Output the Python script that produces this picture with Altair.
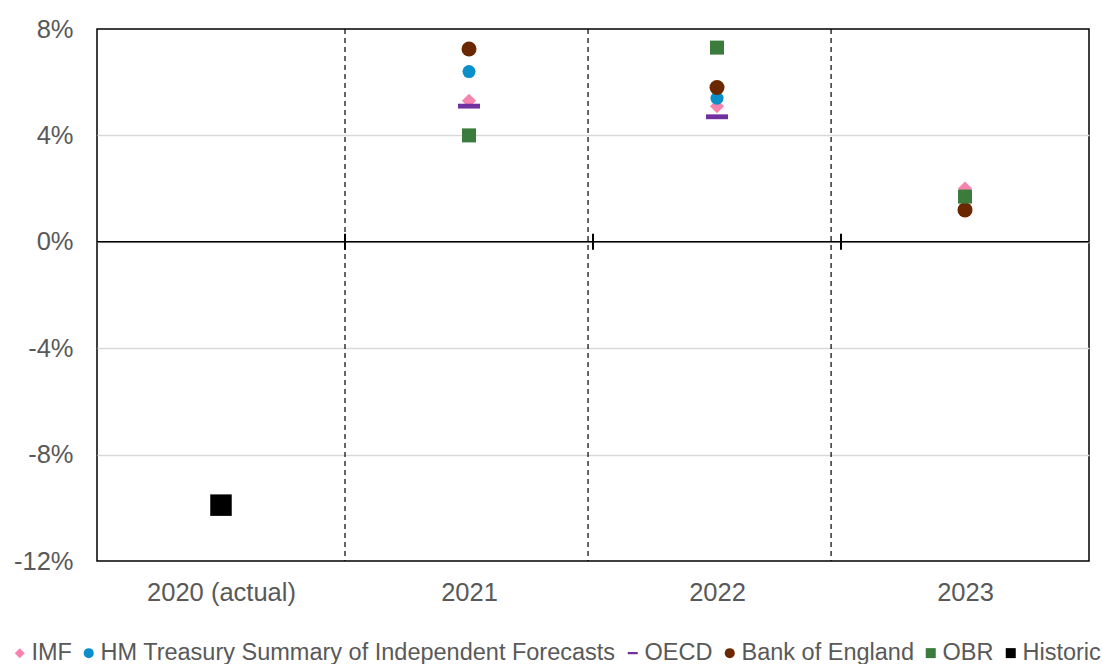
import json
import altair as alt
import pandas as pd

# ---- data ----
categories = ["2020 (actual)", "2021", "2022", "2023"]
series = ["IMF", "HM Treasury Summary of Independent Forecasts", "OECD",
          "Bank of England", "OBR", "Historic"]
imf = [None, 5.3, 5.1, 2.0]
hmt = [None, 6.4, 5.4, None]
oecd = [None, 5.1, 4.7, None]
boe = [None, 7.25, 5.8, 1.2]
obr = [None, 4.0, 7.3, 1.7]
historic = [-9.9, None, None, None]
series_values = [imf, hmt, oecd, boe, obr, historic]

colors = ["#F783AE", "#0A8FCA", "#7030A0", "#6B2700", "#3B7B3B", "#000000"]
shapes = ["diamond", "circle", "M-1,-0.22H1V0.22H-1Z", "circle", "square", "square"]
marker_sizes = [200, 169, 484, 225, 196, 462]

dividers = [1.0, 1.98, 2.96]        # dashed separators (category units)
zero_ticks = [1, 2, 3]              # tick marks on the 0% axis line
y_ticks = [-12, -8, -4, 0, 4, 8]
label_pos = [0.5, 1.5, 2.5, 3.5]

rows = []
for i, (s, vals) in enumerate(zip(series, series_values)):
    for j, v in enumerate(vals):
        if v is not None:
            rows.append({"series": s, "x": j + 0.5, "y": v, "size": marker_sizes[i]})
df = pd.DataFrame(rows)

W, H = 992, 532
FONT = "Liberation Sans"
GREY = "#595959"

xscale = alt.Scale(domain=[0, 4], nice=False, zero=False)
yscale = alt.Scale(domain=[-12, 8], nice=False, zero=False)

x_axis = alt.Axis(values=label_pos,
                  labelExpr=json.dumps(categories) + "[floor(datum.value)]",
                  ticks=False, domain=False, grid=False, title=None,
                  labelFontSize=25.5, labelColor=GREY, labelFont=FONT,
                  labelPadding=19)
y_axis = alt.Axis(values=y_ticks, labelExpr="datum.value + '%'",
                  ticks=False, domain=False, grid=True, title=None,
                  gridColor={"condition": {"test": "datum.value == 8 || datum.value == -12",
                                           "value": "transparent"},
                             "value": "#D9D9D9"},
                  gridWidth=1.5,
                  labelFontSize=25.5, labelColor=GREY, labelFont=FONT,
                  labelPadding=24)


def X(field):
    return alt.X(field, scale=xscale, axis=x_axis)


def Y(field):
    return alt.Y(field, scale=yscale, axis=y_axis)


legend = alt.Legend(orient="none", legendX=-89, legendY=612, direction="horizontal",
                    title=None, labelFontSize=23.5, labelColor=GREY, labelFont=FONT,
                    symbolSize=100, labelOffset=0, columnPadding=5, labelLimit=1000,
                    padding=0, symbolStrokeWidth=0)

div_df = pd.DataFrame({"x": dividers})
dash = alt.Chart(div_df).mark_rule(color="black", strokeWidth=1.2, strokeDash=[5, 4]).encode(
    x=X("x:Q"))

zero_df = pd.DataFrame({"y": [0]})
zero_line = alt.Chart(zero_df).mark_rule(color="black", strokeWidth=1.5).encode(y=Y("y:Q"))

tick_df = pd.DataFrame({"x": zero_ticks, "y": [-0.3] * 3, "y2": [0.3] * 3})
ticks = alt.Chart(tick_df).mark_rule(color="black", strokeWidth=2).encode(
    x=X("x:Q"), y=Y("y:Q"), y2="y2:Q")

points = alt.Chart(df).mark_point(filled=True, opacity=1, strokeWidth=0).encode(
    x=X("x:Q"),
    y=Y("y:Q"),
    color=alt.Color("series:N", scale=alt.Scale(domain=series, range=colors), legend=legend),
    shape=alt.Shape("series:N", scale=alt.Scale(domain=series, range=shapes), legend=legend),
    size=alt.Size("size:Q", scale=None),
)

chart = alt.layer(dash, zero_line, ticks, points).properties(
    width=W, height=H,
    padding={"left": 97, "top": 29, "right": 14, "bottom": 103},
    autosize=alt.AutoSizeParams(type="none"),
).configure(background="white").configure_view(stroke="black", strokeWidth=1.5)

chart.save("out.html", embed_options={"renderer": "svg", "actions": False})
